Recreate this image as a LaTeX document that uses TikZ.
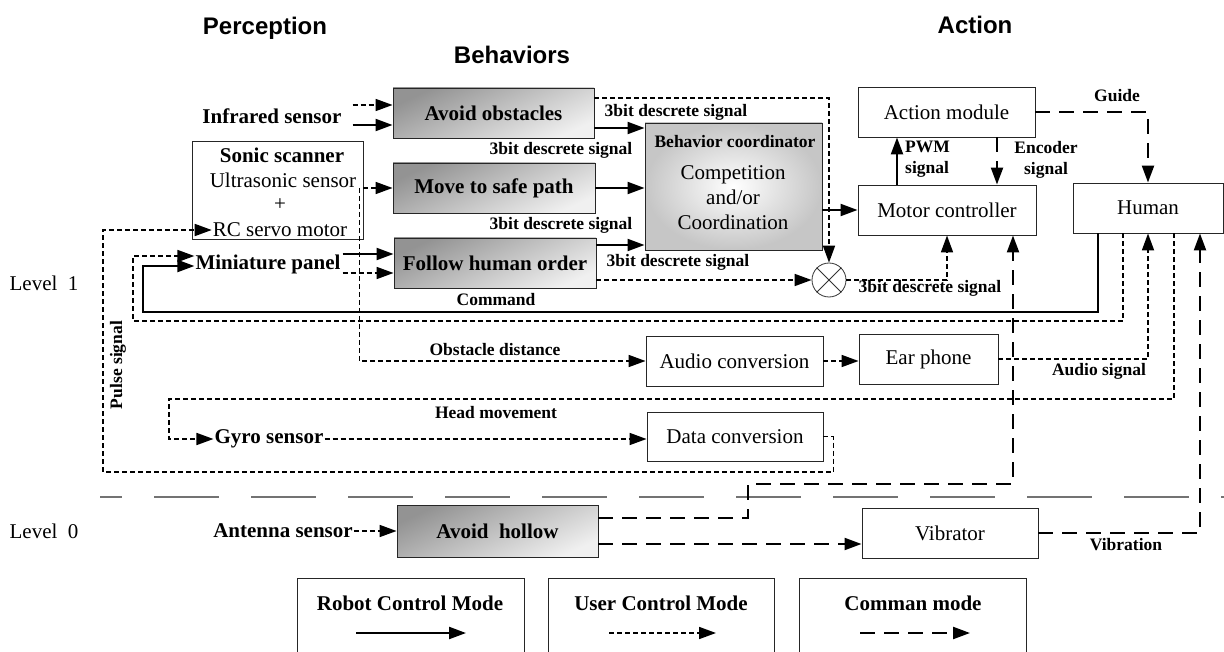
\documentclass[tikz,border=0pt]{standalone}
\usepackage{fontspec}
\setmainfont{Liberation Serif}
\newfontfamily\arialfont{Liberation Sans}
\usetikzlibrary{arrows.meta,calc,shapes.geometric}
\begin{document}
\begin{tikzpicture}[x=1pt,y=-1pt,
  box/.style={draw=black!85, line width=0.9pt, inner sep=0pt, font=\fontsize{21}{23}\selectfont},
  shbox/.style={draw=black!85, line width=0.9pt, inner sep=0pt, top color=gray!85, bottom color=gray!12, shading angle=25, font=\bfseries\fontsize{21}{23}\selectfont},
  txt/.style={font=\fontsize{21}{23}\selectfont, inner sep=1pt},
  lab/.style={font=\bfseries\fontsize{17.5}{21}\selectfont, inner sep=0pt},
  big/.style={font=\bfseries\fontsize{21}{23}\selectfont, inner sep=1pt},
  ttl/.style={font=\arialfont\bfseries\fontsize{24}{26}\selectfont},
  bigtip/.style={-{Triangle[length=17pt,width=12pt]}},
  rob/.style={line width=2.2pt, bigtip},
  usr/.style={line width=1.7pt, dash pattern=on 5pt off 3pt, bigtip},
  cmd/.style={line width=2.2pt, dash pattern=on 15pt off 9pt, bigtip},
  legbox/.style={draw=black!85, line width=0.9pt},
]
\fill[white] (0,0) rectangle (1224,652);
\useasboundingbox (0,0) rectangle (1224,652);

% titles
\node[ttl] (tperc) at (265,28) {Perception};
\node[ttl] (tbeh) at (512,55) {Behaviors};
\node[ttl] (tact) at (975,25) {Action};

% level labels
\node[txt] (lev1) at (44,283) {Level\ \ 1};
\node[txt] (lev0) at (44,531) {Level\ \ 0};

% perception
\node[big] (infra) at (272,116) {Infrared sensor};
\node[box, minimum width=171pt, minimum height=98pt] (sonic) at (277.5,190) {};
\node[big] (ss) at (282,155) {Sonic scanner};
\node[txt] (us) at (283,180) {Ultrasonic sensor};
\node[txt] (plus) at (280,205) {+};
\node[txt] (rc) at (280,230) {RC servo motor};
\node[big] (mini) at (268,264) {Miniature panel};
\node[big] (gyro) at (269,439) {Gyro sensor};
\node[big] (antenna) at (283,531) {Antenna sensor};

% behaviors
\node[shbox, minimum width=201pt, minimum height=50pt] (avoid) at (493.5,113) {Avoid obstacles};
\node[shbox, minimum width=202pt, minimum height=50pt] (move) at (494,188) {Move to safe path};
\node[shbox, minimum width=202pt, minimum height=50pt] (follow) at (495,263) {Follow human order};
\node[shbox, minimum width=201pt, minimum height=52pt] (hollow) at (497.5,531) {Avoid\ \ hollow};

% coordinator
\node[draw=black!85, line width=0.9pt, inner color=white, outer color=gray!45, minimum width=177pt, minimum height=127pt] (coord) at (733.5,186.5) {};
\node[lab] (bc) at (735,142) {Behavior coordinator};
\node[font=\fontsize{21}{25}\selectfont, align=center, inner sep=0pt] (comp) at (733,198) {Competition\\and/or\\Coordination};

\node[draw=black!80, line width=0.8pt, circle, minimum size=34pt, inner sep=0pt] (circ) at (829,280) {};
\draw[line width=0.8pt, black!80] (circ.north west) -- (circ.south east) (circ.north east) -- (circ.south west);

% action side
\node[box, minimum width=177pt, minimum height=50pt] (action) at (946.5,112) {Action module};
\node[box, minimum width=178pt, minimum height=50pt] (motor) at (947,210) {Motor controller};
\node[box, minimum width=150pt, minimum height=50pt] (human) at (1148,208) {Human};
\node[box, minimum width=177pt, minimum height=50pt] (audio) at (734.5,361) {Audio conversion};
\node[box, minimum width=139pt, minimum height=50pt] (ear) at (928.5,359) {Ear phone};
\node[box, minimum width=176pt, minimum height=49pt] (data) at (735,436.5) {Data conversion};
\node[box, minimum width=176pt, minimum height=50pt] (vib) at (950,533) {Vibrator};

% labels
\node[lab] (l1) at (676,112) {3bit descrete signal};
\node[lab] (l2) at (561,150) {3bit descrete signal};
\node[lab] (l3) at (561,225) {3bit descrete signal};
\node[lab] (l4) at (678,262) {3bit descrete signal};
\node[lab] (l5) at (930,288) {3bit descrete signal};
\node[lab, align=left, anchor=west] (pwm) at (905,159) {PWM\\signal};
\node[lab, align=center] (enc) at (1046,160) {Encoder\\signal};
\node[lab] (guide) at (1117,96) {Guide};
\node[lab] (cmdl) at (496,300) {Command};
\node[lab] (obs) at (495,350) {Obstacle distance};
\node[lab] (asig) at (1099,371) {Audio signal};
\node[lab] (head) at (496,413) {Head movement};
\node[lab, rotate=90] (pulse) at (118,365) {Pulse signal};
\node[lab] (vibl) at (1126,545) {Vibration};

% level separator
\draw[black!55, line width=2.5pt, dash pattern=on 65pt off 32pt, dash phase=43pt] (100,497) -- (1224,497);

% connectors: perception -> behaviors
\draw[usr] ($(infra.east)+(10,-11)$) -- ($(avoid.west)+(0,-8)$);
\draw[rob] ($(infra.east)+(10,9)$) -- ($(avoid.west)+(0,12)$);
\draw[usr] ($(sonic.east)+(0,-2)$) -- (move.west);
\draw[usr] ($(sonic.east)+(-4,-2)$) |- (audio.west);
\draw[rob] ($(mini.east)+(1,-10)$) -- (follow.west |- 0,254);
\draw[usr] ($(mini.east)+(1,9)$) -- (follow.west |- 0,273);
\draw[usr] (antenna.east) -- (hollow.west);

% behaviors -> coordinator / circle
\draw[rob] (avoid.east |- 0,128) -- (coord.west |- 0,128);
\draw[rob] (move.east) -- (coord.west |- move.east);
\draw[rob] (follow.east |- 0,245) -- (coord.west |- 0,245);
\draw[usr] (avoid.east |- 0,98) -| (circ.north);
\draw[usr] (follow.east |- circ.west) -- (circ.west);

% coordinator -> motor, action loop
\draw[rob] (coord.east |- motor.west) -- (motor.west);
\draw[usr] (circ.east) -| (motor.south);
\draw[rob] ($(motor.north)+(-50,0)$) -- ($(action.south)+(-49.5,0)$);
\draw[cmd] ($(action.south)+(50.5,0)$) -- ($(motor.north)+(50,0)$);
\draw[cmd] (action.east) -| (human.north);

% human feedback
\draw[rob] ($(human.south)+(-50,0)$) |- (143,312) |- ($(mini.west)+(0,2)$);
\draw[usr] ($(human.south)+(-25,0)$) |- (133,321) |- ($(mini.west)+(0,-8)$);
\draw[usr] (audio.east) -- (audio.east -| ear.west);
\draw[usr] (ear.east) -| (human.south);
\draw[usr] ($(human.south)+(26,0)$) |- (169,399) |- (gyro.west);
\draw[usr] (gyro.east) -- (gyro.east -| data.west);
\draw[usr] (data.east) -- ++(10,0) |- (103,472) |- (rc.west);

% level 0
\draw[cmd] ($(hollow.east)+(0,-13)$) -| (748,484) -| ($(motor.south)+(66,0)$);
\draw[cmd] ($(hollow.east)+(0,13)$) -- (vib.west |- 0,544);
\draw[cmd] (vib.east) -| ($(human.south)+(52,0)$);

% legend
\draw[legbox] (297,652) -- (297,578) -- (524,578) -- (524,652);
\draw[legbox] (548,652) -- (548,578) -- (774,578) -- (774,652);
\draw[legbox] (799,652) -- (799,578) -- (1026,578) -- (1026,652);
\node[big] (lg1) at (410,603) {Robot Control Mode};
\node[big] (lg2) at (661,603) {User Control Mode};
\node[big] (lg3) at (913,603) {Comman mode};
\draw[rob] ($(lg1)+(-54,30)$) -- ++(110,0);
\draw[usr] ($(lg2)+(-52,30)$) -- ++(107,0);
\draw[cmd] ($(lg3)+(-53,30)$) -- ++(110,0);
\end{tikzpicture}
\end{document}
